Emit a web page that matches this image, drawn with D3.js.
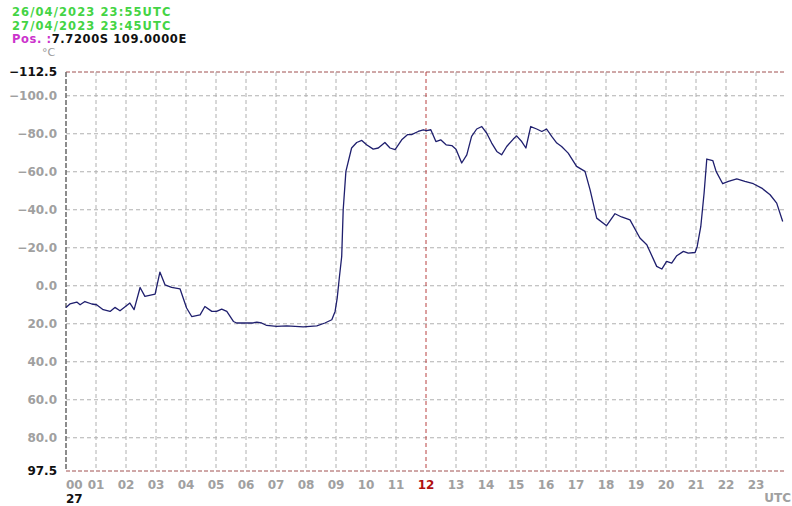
<!DOCTYPE html>
<html>
<head>
<meta charset="utf-8">
<script src="https://cdn.jsdelivr.net/npm/d3@7"></script>
<style>
html,body{margin:0;padding:0;background:#fff;}
svg{display:block;}
</style>
</head>
<body>
<svg id="chart" width="792" height="506"></svg>
<script>
// ---- data ----
const hours = [0.0,0.13,0.36,0.47,0.63,0.86,1.02,1.24,1.47,1.63,1.8,2.13,2.27,2.47,2.63,2.97,3.13,3.3,3.52,3.8,
  4.02,4.19,4.47,4.63,4.86,5.02,5.19,5.36,5.58,5.69,6.24,6.36,6.52,6.69,7.02,7.36,7.91,8.36,8.63,8.86,
  8.97,9.04,9.11,9.19,9.24,9.33,9.52,9.69,9.86,10.02,10.24,10.41,10.63,10.8,10.97,11.19,11.38,11.52,11.74,11.91,
  12.02,12.16,12.33,12.49,12.67,12.86,13.0,13.19,13.36,13.52,13.69,13.86,14.02,14.19,14.36,14.52,14.69,14.91,15.02,15.19,
  15.33,15.49,15.69,15.86,16.02,16.19,16.36,16.52,16.74,17.02,17.3,17.47,17.69,18.02,18.3,18.52,18.8,19.13,19.36,19.69,
  19.86,20.02,20.19,20.36,20.58,20.74,20.97,21.04,21.16,21.27,21.36,21.56,21.67,21.89,22.08,22.36,22.63,22.91,23.19,23.47,
  23.69,23.89];
const tempC = [11.4,9.6,8.6,10.0,8.3,9.6,10.0,12.6,13.5,11.4,13.2,9.1,12.6,0.9,5.6,4.4,-7.2,-0.5,0.9,1.6,
  11.7,16.2,15.3,10.9,13.5,13.5,12.3,13.5,18.8,19.6,19.6,19.1,19.6,20.9,21.4,21.1,21.6,21.1,19.6,17.9,
  13.5,6.5,-4.1,-15.4,-40.0,-60.2,-72.5,-75.4,-76.5,-74.2,-71.9,-72.5,-75.4,-72.5,-71.6,-76.8,-79.5,-79.5,-81.2,-82.1,
  -81.7,-82.1,-75.9,-76.8,-74.2,-73.8,-71.9,-64.6,-68.9,-78.6,-82.5,-83.8,-80.4,-75.1,-70.7,-68.9,-73.3,-77.2,-78.9,-75.9,
  -72.5,-83.8,-82.5,-81.2,-82.5,-78.6,-75.1,-73.3,-69.8,-62.8,-60.2,-50.5,-35.6,-31.6,-37.9,-36.2,-34.7,-25.1,-21.6,-10.2,
  -8.8,-12.8,-11.9,-15.8,-18.1,-17.2,-17.5,-20.7,-31.2,-48.8,-66.7,-65.9,-60.2,-53.7,-54.9,-56.2,-54.9,-53.7,-51.4,-47.9,
  -43.5,-33.8];
const yTicks = [-112.5,-100,-80,-60,-40,-20,0,20,40,60,80,97.5];
const xTicks = d3.range(0,24);
const headerLines = ["26/04/2023 23:55UTC","27/04/2023 23:45UTC"];
const posLabel = "Pos. :";
const posValue = "7.7200S 109.0000E";
const unitLabel = "°C";
const dayLabel = "27";
const utcLabel = "UTC";

// ---- layout ----
const svg = d3.select("#chart");
const L = 66, R = 786, T = 72, B = 471;
const x = d3.scaleLinear().domain([0,24]).range([L,R]);
const y = d3.scaleLinear().domain([-112.5,97.5]).range([T,B]);
const FONT = "'DejaVu Sans', Verdana, sans-serif";

svg.append("rect").attr("width",792).attr("height",506).attr("fill","#fff");

// grid horizontal
const g = svg.append("g");
yTicks.forEach(v=>{
  const edge = (v===-112.5||v===97.5);
  g.append("line").attr("x1",L).attr("x2",R).attr("y1",y(v)).attr("y2",y(v))
    .attr("stroke", edge ? "#a05050" : "#b0b0b0")
    .attr("stroke-width", 1)
    .attr("stroke-dasharray", edge ? "4,2" : "4,3");
});
// grid vertical
xTicks.forEach(h=>{
  if(h===0) return;
  g.append("line").attr("x1",x(h)).attr("x2",x(h)).attr("y1",T).attr("y2",B)
    .attr("stroke", h===12 ? "#b84040" : "#b0b0b0")
    .attr("stroke-width",1)
    .attr("stroke-dasharray","4,3");
});
// left border
g.append("line").attr("x1",L).attr("x2",L).attr("y1",T).attr("y2",B)
  .attr("stroke","#707070").attr("stroke-width",1.6).attr("stroke-dasharray","5,2");

// y labels
yTicks.forEach(v=>{
  const edge = (v===-112.5||v===97.5);
  svg.append("text").attr("x",57).attr("y",y(v)).attr("dy","0.36em")
    .attr("text-anchor","end").attr("font-family",FONT).attr("font-weight","bold")
    .attr("font-size",12).attr("fill", edge ? "#111" : "#a0a0a0")
    .text(d3.format(".1f")(v));
});

// x labels
xTicks.forEach(h=>{
  svg.append("text").attr("x", h===0 ? L : x(h)).attr("y",489)
    .attr("text-anchor", h===0 ? "start" : "middle")
    .attr("font-family",FONT).attr("font-weight","bold").attr("font-size",12)
    .attr("fill", h===12 ? "#b01010" : "#a0a0a0")
    .text(d3.format("02d")(h));
});
svg.append("text").attr("x",L).attr("y",503).attr("font-family",FONT).attr("font-weight","bold")
  .attr("font-size",12).attr("fill","#111").text(dayLabel);
svg.append("text").attr("x",791).attr("y",502).attr("text-anchor","end").attr("font-family",FONT)
  .attr("font-weight","bold").attr("font-size",12).attr("fill","#a0a0a0").text(utcLabel);

// header
headerLines.forEach((t,i)=>{
  svg.append("text").attr("x",12).attr("y",16+i*13.5).attr("font-family",FONT).attr("font-weight","bold")
    .attr("font-size",11.5).attr("letter-spacing",1.1).attr("fill","#44d444").text(t);
});
const pos = svg.append("text").attr("x",12).attr("y",43).attr("font-family",FONT).attr("font-weight","bold")
  .attr("font-size",11.5).attr("letter-spacing",0.6);
pos.append("tspan").attr("fill","#cc33cc").text(posLabel);
pos.append("tspan").attr("fill","#111").text(posValue);
svg.append("text").attr("x",42).attr("y",56).attr("font-family",FONT).attr("font-size",11)
  .attr("fill","#9a9a9a").text(unitLabel);

// line
const line = d3.line().x((d,i)=>x(hours[i])).y(d=>y(d));
svg.append("path").datum(tempC).attr("d",line).attr("fill","none")
  .attr("stroke","#1f1f6e").attr("stroke-width",1.3).attr("stroke-linejoin","round");
</script>
</body>
</html>
